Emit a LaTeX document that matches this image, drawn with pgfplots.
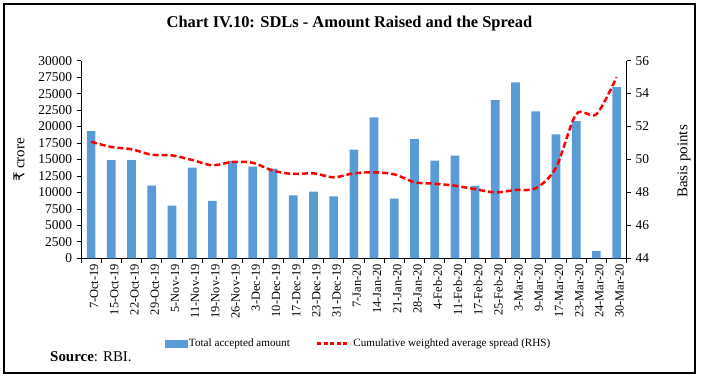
\documentclass[border=0pt]{standalone}
\usepackage{fontspec}
\setmainfont{Liberation Serif}
\newfontfamily\rupeefont{DejaVu Sans}
\usepackage{pgfplots}
\usepackage{pgfplotstable}
\pgfplotsset{compat=1.18}
\definecolor{barblue}{RGB}{91,155,213}

\pgfplotstableread{
x amt spread
0 19300 51.08
1 14900 50.76
2 14900 50.62
3 11030 50.29
4 7990 50.25
5 13760 49.97
6 8700 49.65
7 14770 49.85
8 13910 49.80
9 13610 49.32
10 9560 49.12
11 10120 49.16
12 9410 48.92
13 16490 49.16
14 21400 49.22
15 9060 49.10
16 18110 48.62
17 14820 48.53
18 15580 48.41
19 10980 48.20
20 24030 48.00
21 26710 48.15
22 22310 48.25
23 18820 49.50
24 20840 52.75
25 1110 52.75
26 26000 55.00
}\data

\begin{document}
\begin{tikzpicture}[x=1bp,y=1bp]
\path[use as bounding box] (0,0) rectangle (701,379);
\draw[line width=1.6bp] (4,6) rectangle (695,375);
\node[font=\bfseries\fontsize{16.5}{18}\selectfont, anchor=base] at (349.5,352) {Chart IV.10: SDLs - Amount Raised and the Spread};
\node[anchor=base west, font=\fontsize{15}{17}\selectfont, inner sep=0pt] at (50,18) {\textbf{Source}: RBI.};

\begin{axis}[
  at={(81bp,120.7bp)}, anchor=south west,
  scale only axis, width=545.7bp, height=197.6bp,
  xmin=-0.5, xmax=26.5, ymin=0, ymax=30000,
  axis x line*=bottom, axis y line*=left,
  axis line style={-, black, line width=0.8bp},
  ytick={0,2500,...,30000},
  scaled y ticks=false,
  xtick={0,...,26},
  xticklabels={7-Oct-19,15-Oct-19,22-Oct-19,29-Oct-19,5-Nov-19,11-Nov-19,19-Nov-19,26-Nov-19,3-Dec-19,10-Dec-19,17-Dec-19,23-Dec-19,31-Dec-19,7-Jan-20,14-Jan-20,21-Jan-20,28-Jan-20,4-Feb-20,11-Feb-20,17-Feb-20,25-Feb-20,3-Mar-20,9-Mar-20,17-Mar-20,23-Mar-20,24-Mar-20,30-Mar-20},
  minor xtick={-0.5,0.5,...,26.5},
  tick align=outside,
  major tick length=4.5bp, minor tick length=4.5bp,
  major x tick style={draw=none},
  minor x tick style={draw=black, line width=0.8bp},
  major y tick style={draw=black, line width=0.8bp},
  x tick label style={rotate=90, anchor=east, font=\fontsize{12.5}{12}\selectfont, inner sep=1bp, yshift=-3bp},
  y tick label style={font=\fontsize{13.5}{12}\selectfont, xshift=-1bp},
  /pgf/number format/1000 sep={},
  /pgf/number format/assume math mode=true,
  ylabel={{\rupeefont ₹} crore},
  ylabel style={at={(axis description cs:-0.1136,0.4975)}, anchor=center, rotate=0, font=\fontsize{15}{16}\selectfont},
  clip=false,
]
\addplot[ybar, bar width=8.7bp, fill=barblue, draw=none] table[x=x,y=amt]{\data};
\end{axis}

\begin{axis}[
  at={(81bp,120.7bp)}, anchor=south west,
  scale only axis, width=545.7bp, height=197.6bp,
  xmin=-0.5, xmax=26.5, ymin=44, ymax=56,
  axis x line=none, axis y line*=right,
  axis line style={-, black, line width=0.8bp},
  ytick={44,46,...,56},
  tick align=outside, major tick length=4.5bp,
  major y tick style={draw=black, line width=0.8bp},
  y tick label style={font=\fontsize{13.5}{12}\selectfont, xshift=1bp},
  /pgf/number format/assume math mode=true,
  ylabel={Basis points},
  ylabel style={at={(axis description cs:1.105,0.49)}, anchor=center, rotate=0, font=\fontsize{15}{16}\selectfont},
  legend style={at={(axis description cs:0.5085,-0.431)}, anchor=center, draw=none, fill=none,
    legend columns=2, font=\fontsize{11.2}{13}\selectfont,
    /tikz/every even column/.append style={column sep=24bp}},
  clip=false,
]
\addlegendimage{legend image code/.code={\fill[barblue] (0bp,-3.5bp) rectangle (22bp,3.5bp);}}
\addlegendentry{Total accepted amount}
\addplot[red, line width=2.5bp, dash pattern=on 6bp off 3bp, smooth, tension=0.5,
  legend image code/.code={\draw[red,line width=2.5bp,dash pattern=on 4bp off 2.6bp] (0bp,0bp) -- (33bp,0bp);}]
  table[x=x,y=spread]{\data};
\addlegendentry{Cumulative weighted average spread (RHS)}
\end{axis}
\end{tikzpicture}
\end{document}
